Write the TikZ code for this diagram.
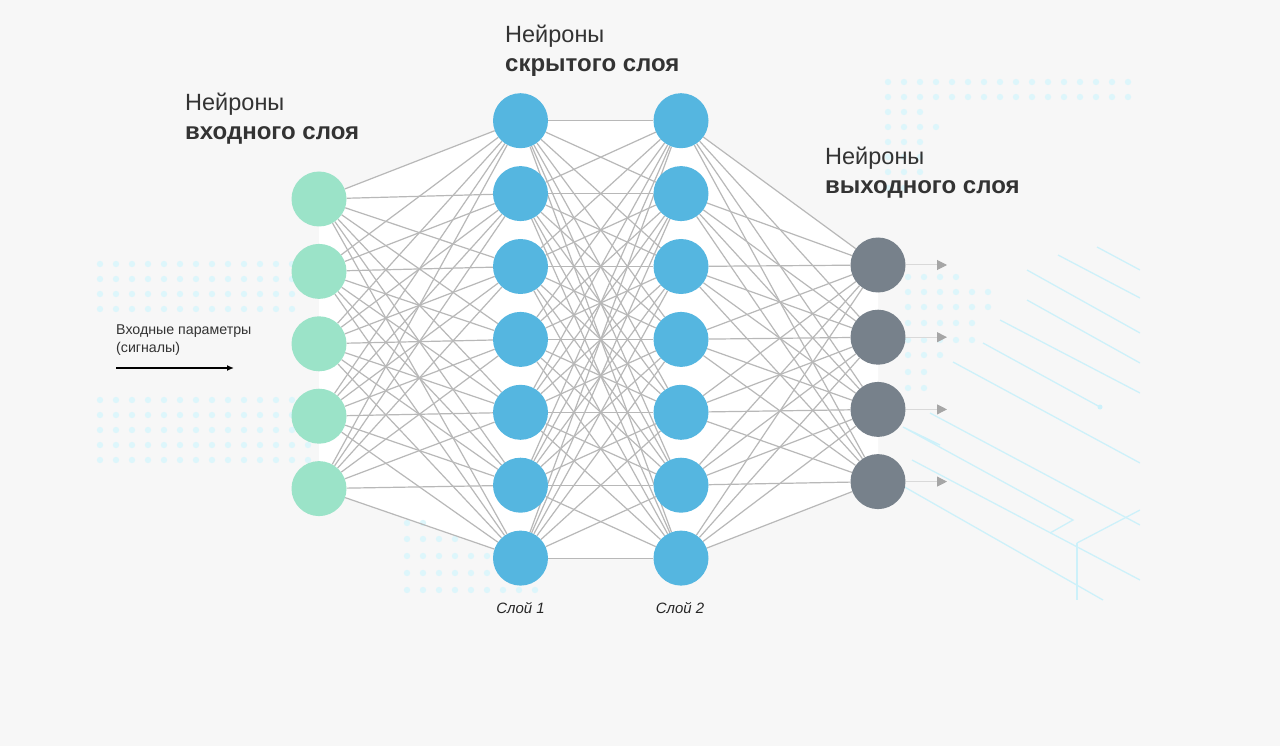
\documentclass[tikz,border=0pt]{standalone}
\usepackage{fontspec}
\setmainfont{Liberation Sans}
\usetikzlibrary{arrows.meta}
\definecolor{bgc}{HTML}{F7F7F7}
\definecolor{inc}{HTML}{9BE3C8}
\definecolor{hidc}{HTML}{55B6E0}
\definecolor{outc}{HTML}{77818B}
\definecolor{edgec}{HTML}{B8B8B8}
\definecolor{dotc}{HTML}{DDF6FB}
\definecolor{linec}{HTML}{CDF1FA}
\definecolor{txt}{HTML}{333333}
\pgfdeclarelayer{back}
\pgfdeclarelayer{edges}
\pgfsetlayers{back,edges,main}
\begin{document}
\begin{tikzpicture}[x=1pt,y=-1pt,
  neuron/.style={circle,inner sep=0pt,minimum size=55pt},
  inneuron/.style={neuron,fill=inc},
  hidneuron/.style={neuron,fill=hidc},
  outneuron/.style={neuron,fill=outc},
  edge/.style={draw=edgec,line width=1.2pt},
  outline/.style={draw=black!15,line width=1pt,-{Triangle[length=10pt,width=10pt,color=black!35]}},
  sigarrow/.style={draw=black,line width=1.3pt,-{Latex[length=7pt,width=6pt]}},
  title/.style={anchor=base west,inner sep=0pt,text=txt,font=\fontsize{23.5}{27}\selectfont},
  titleb/.style={anchor=base west,inner sep=0pt,text=txt,font=\fontsize{24}{28}\selectfont\bfseries},
  smalltext/.style={anchor=base west,inner sep=0pt,text=txt,font=\fontsize{14.2}{17}\selectfont},
  layerlbl/.style={anchor=base,inner sep=0pt,text=black!85,font=\fontsize{15}{18}\selectfont\itshape},
  decodot/.style={fill=dotc},
  decoline/.style={draw=linec,line width=1.3pt}
]
\useasboundingbox (0,0) rectangle (1280,746);

% neurons
\foreach \i in {1,...,5} \node[inneuron] (i\i) at (319,{199+72.4*(\i-1)}) {};
\foreach \j in {1,...,7} \node[hidneuron] (a\j) at (520.5,{120.7+72.9*(\j-1)}) {};
\foreach \j in {1,...,7} \node[hidneuron] (b\j) at (681,{120.7+72.9*(\j-1)}) {};
\foreach \k in {1,...,4} \node[outneuron] (o\k) at (878,{265+72.2*(\k-1)}) {};
\foreach \k in {1,...,4} \coordinate (t\k) at (947,{265+72.2*(\k-1)});

% background and decoration
\begin{pgfonlayer}{back}
  \fill[bgc] (0,0) rectangle (1280,746);
  \fill[white] (319,199) -- (520.5,120.7) -- (681,120.7) -- (878,265) -- (878,481.6) -- (681,558) -- (520.5,558) -- (319,488.6) -- cycle;
  % dots left upper
  \foreach \y in {264,279,294,309} \foreach \x in {100,116,...,300} \fill[decodot] (\x,\y) circle (3.2pt);
  % dots left lower
  \foreach \y in {400,415,430,445,460} \foreach \x in {100,116,...,316} \fill[decodot] (\x,\y) circle (3.2pt);
  % dots bottom centre
  \foreach \y/\xe in {523/420,539/455,556/500,573/530,590/550} \foreach \x in {407,423,...,\xe} \fill[decodot] (\x,\y) circle (3.2pt);
  % dots top right
  \foreach \y in {82,97} \foreach \x in {888,904,...,1135} \fill[decodot] (\x,\y) circle (3.2pt);
  \foreach \y/\xe in {112/935,127/950,142/935,157/935,172/920,188/905} \foreach \x in {888,904,...,\xe} \fill[decodot] (\x,\y) circle (3.2pt);
  % dots right of output layer
  \foreach \y/\xe in {277/960,292/1000,307/1000,323/985,340/985,355/940,372/925,388/910} \foreach \x in {908,924,...,\xe} \fill[decodot] (\x,\y) circle (3.2pt);
  % circuit lines
  \begin{scope}
    \clip (880,180) rectangle (1140,605);
    \draw[decoline] (1097,247) -- (1140,270);
    \draw[decoline] (1058,255) -- (1140,298);
    \draw[decoline] (1027,270) -- (1140,333);
    \draw[decoline] (1027,300) -- (1140,363);
    \draw[decoline] (1000,320) -- (1140,393);
    \draw[decoline] (983,343) -- (1100,407);
    \fill[linec] (1100,407) circle (2.5pt);
    \draw[decoline] (953,362) -- (1140,463);
    \draw[decoline] (930,413) -- (1140,525);
    \draw[decoline] (940,445) -- (903,427) -- (1073,520) -- (1050,533);
    \draw[decoline] (912,460) -- (1140,580);
    \draw[decoline] (887,477) -- (1103,600);
    \draw[decoline] (1077,543) -- (1077,600);
    \draw[decoline] (1077,543) -- (1140,510);
  \end{scope}
\end{pgfonlayer}

% connections
\begin{pgfonlayer}{edges}
  \foreach \p in {1,...,5} \foreach \q in {1,...,7} \draw[edge] (i\p) -- (a\q);
  \foreach \p in {1,...,7} \foreach \q in {1,...,7} \draw[edge] (a\p) -- (b\q);
  \foreach \p in {1,...,7} \foreach \q in {1,...,4} \draw[edge] (b\p) -- (o\q);
\end{pgfonlayer}

% output arrows
\foreach \k in {1,...,4} \draw[outline] (o\k) -- (t\k);

% input signal arrow
\coordinate (s1) at (116,368);
\coordinate (s2) at (234,368);
\draw[sigarrow] (s1) -- (s2);
\node[smalltext] (sigt1) at (116,334.5) {Входные параметры};
\node[smalltext] (sigt2) at (116,352) {(сигналы)};

% titles
\node[title]  (ta1) at (185,110.7) {Нейроны};
\node[titleb] (tb1) at (185,139.3) {входного слоя};
\node[title]  (ta2) at (505,42.7) {Нейроны};
\node[titleb] (tb2) at (505,71.3) {скрытого слоя};
\node[title]  (ta3) at (825,164.7) {Нейроны};
\node[titleb] (tb3) at (825,193.3) {выходного слоя};

% layer labels
\node[layerlbl] (l1) at (520.5,613.3) {Слой 1};
\node[layerlbl] (l2) at (680,613.3) {Слой 2};
\end{tikzpicture}
\end{document}
